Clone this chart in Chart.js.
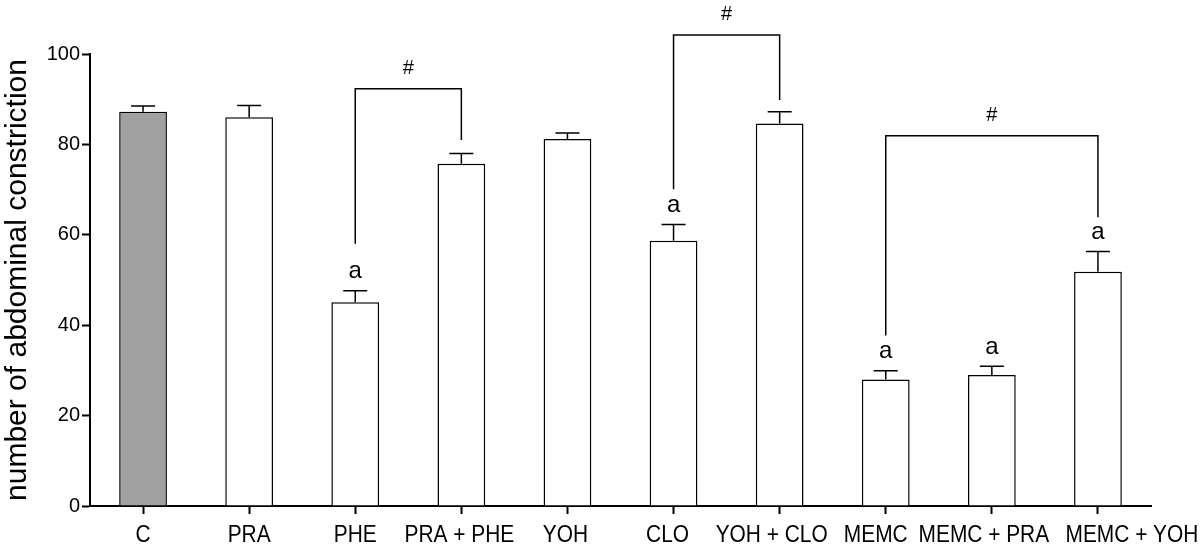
<!DOCTYPE html>
<html>
<head>
<meta charset="utf-8">
<script src="https://cdn.jsdelivr.net/npm/chart.js@4"></script>
<style>
  html, body { margin: 0; padding: 0; background: #fff; }
  #wrap { width: 1200px; height: 553px; }
</style>
</head>
<body>
<div id="wrap"><canvas id="myChart" width="1200" height="553"></canvas></div>
<script>
// data
const categories = ['C', 'PRA', 'PHE', 'PRA + PHE', 'YOH', 'CLO', 'YOH + CLO', 'MEMC', 'MEMC + PRA', 'MEMC + YOH'];
const means = [87.2, 86.0, 45.1, 75.7, 81.2, 58.7, 84.6, 28.0, 29.0, 51.8];
const sems = [1.3, 2.6, 2.5, 2.3, 1.3, 3.6, 2.6, 1.9, 1.9, 4.5];
const letters = ['', '', 'a', '', '', 'a', '', 'a', 'a', 'a'];
const yTicks = [0, 20, 40, 60, 80, 100];
// brackets: [from, to, top, left leg end, right leg end]
const brackets = [
  [2, 3, 92.3, 58.0, 81.0],
  [5, 6, 104.2, 70.1, 89.8],
  [7, 9, 81.9, 37.7, 63.9]
];

const fillColors = categories.map((c, i) => i === 0 ? '#a0a0a0' : '#ffffff');
const FONT = '"Liberation Sans", Arial, sans-serif';

const extras = {
  id: 'extras',
  afterDatasetsDraw(chart) {
    const ctx = chart.ctx;
    const x = chart.scales.x, y = chart.scales.y;
    ctx.save();
    ctx.strokeStyle = '#000';
    ctx.fillStyle = '#000';
    ctx.lineWidth = 1.5;
    // error bars (upper half only)
    means.forEach((m, i) => {
      const cx = x.getPixelForValue(i);
      const y0 = y.getPixelForValue(m);
      const y1 = y.getPixelForValue(m + sems[i]);
      ctx.beginPath();
      ctx.moveTo(cx, y0);
      ctx.lineTo(cx, y1);
      ctx.moveTo(cx - 12, y1);
      ctx.lineTo(cx + 12, y1);
      ctx.stroke();
      if (letters[i]) {
        ctx.font = '24px ' + FONT;
        ctx.textAlign = 'center';
        ctx.textBaseline = 'middle';
        ctx.fillText(letters[i], cx, y1 - 19);
      }
    });
    // significance brackets
    brackets.forEach(b => {
      const xa = x.getPixelForValue(b[0]);
      const xb = x.getPixelForValue(b[1]);
      const top = y.getPixelForValue(b[2]);
      ctx.beginPath();
      ctx.moveTo(xa, y.getPixelForValue(b[3]));
      ctx.lineTo(xa, top);
      ctx.lineTo(xb, top);
      ctx.lineTo(xb, y.getPixelForValue(b[4]));
      ctx.stroke();
      ctx.font = '20px ' + FONT;
      ctx.textAlign = 'center';
      ctx.textBaseline = 'alphabetic';
      ctx.fillText('#', (xa + xb) / 2, top - 15);
    });
    // category labels, drawn condensed like the original
    // (the original nudges a few labels sideways so they don't collide)
    const nudge = [0, 0, 0, -2, -2, -6, -8, -10, -8, 34];
    ctx.font = '24px ' + FONT;
    ctx.textAlign = 'center';
    ctx.textBaseline = 'alphabetic';
    categories.forEach((c, i) => {
      const cx = x.getPixelForValue(i) + nudge[i];
      ctx.save();
      ctx.translate(cx, y.bottom + 36);
      ctx.scale(0.87, 1);
      ctx.fillText(c, 0, 0);
      ctx.restore();
    });
    ctx.restore();
  }
};

const config = {
  type: 'bar',
  data: {
    labels: categories,
    datasets: [{
      data: means,
      backgroundColor: fillColors,
      borderColor: '#000',
      borderWidth: 1.5,
      barPercentage: 0.45,
      categoryPercentage: 1.0
    }]
  },
  options: {
    responsive: false,
    animation: false,
    layout: { padding: { top: 54, right: 49, left: 0, bottom: 0 } },
    plugins: {
      legend: { display: false },
      tooltip: { enabled: false }
    },
    scales: {
      x: {
        offset: true,
        grid: { display: true, drawOnChartArea: false, offset: false, tickLength: 8, tickColor: '#000', tickWidth: 2 },
        border: { color: '#000', width: 2 },
        ticks: {
          color: 'rgba(0,0,0,0)',
          padding: 8,
          maxRotation: 0,
          autoSkip: false,
          font: { family: FONT, size: 16 }
        },
        afterFit(scale) { scale.height = 47; }
      },
      y: {
        min: 0,
        max: 100,
        afterBuildTicks(scale) { scale.ticks = yTicks.map(v => ({ value: v })); },
        grid: { display: true, drawOnChartArea: false, tickLength: 8, tickColor: '#000', tickWidth: 2 },
        border: { color: '#000', width: 2 },
        ticks: {
          color: '#000',
          padding: 2,
          font: { family: FONT, size: 20 }
        },
        title: {
          display: true,
          text: 'number of abdominal constriction',
          color: '#000',
          padding: { top: 0, bottom: 2 },
          font: { family: FONT, size: 30 }
        },
        afterFit(scale) { scale.width = 90; }
      }
    }
  },
  plugins: [extras]
};

const myChart = new Chart(document.getElementById('myChart'), config);
</script>
</body>
</html>
